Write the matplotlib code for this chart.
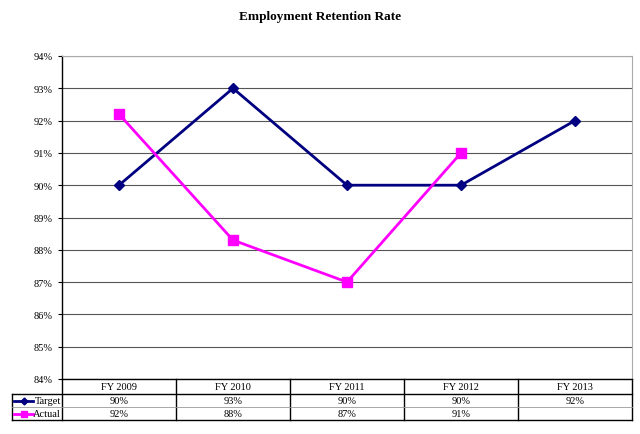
import numpy as np
import matplotlib.pyplot as plt
from matplotlib.lines import Line2D

categories = ["FY 2009", "FY 2010", "FY 2011", "FY 2012", "FY 2013"]
target = [90, 93, 90, 90, 92]
actual = [92.2, 88.3, 87.0, 91.0, None]
target_labels = ["90%", "93%", "90%", "90%", "92%"]
actual_labels = ["92%", "88%", "87%", "91%", ""]

plt.rcParams["font.family"] = ["Liberation Serif", "DejaVu Serif"]

W, H = 640, 435
fig = plt.figure(figsize=(W / 100, H / 100), dpi=100)
left, right, top, bottom = 62, 632, 57, 380
ax = fig.add_axes([left / W, 1 - bottom / H, (right - left) / W, (bottom - top) / H])

x = np.arange(len(categories))
ax.set_xlim(-0.5, len(categories) - 0.5)
ax.set_ylim(84, 94)
ax.set_yticks(np.arange(84, 95, 1))
ax.set_yticklabels([f"{v}%" for v in range(84, 95)], fontsize=7.5)
ax.set_xticks([])
ax.tick_params(axis="y", direction="out", length=3, width=0.8, pad=4)
ax.yaxis.grid(True, color="#555555", linewidth=0.8)
ax.set_axisbelow(True)
for s in ["top", "right"]:
    ax.spines[s].set_color("#aaaaaa")
    ax.spines[s].set_linewidth(0.8)
ax.spines["left"].set_linewidth(1.0)
ax.spines["bottom"].set_linewidth(1.0)

navy = "#000080"
magenta = "#ff00ff"
ax.plot(x, target, color=navy, linewidth=2, marker="D", markersize=5, zorder=3)
xa = [i for i, v in enumerate(actual) if v is not None]
ya = [v for v in actual if v is not None]
ax.plot(xa, ya, color=magenta, linewidth=2, marker="s", markersize=6.5, zorder=3)

fig.text(0.5, 1 - 17 / H, "Employment Retention Rate", ha="center", va="center",
         fontsize=9.5, fontweight="bold")

# data table under the axes
trans = ax.get_xaxis_transform()
ph = bottom - top
rows_px = [380, 395, 408, 421]
ry = [-(r - bottom) / ph for r in rows_px]
n = len(categories)
lw = 1.0
for i in range(n + 1):
    ax.plot([i - 0.5, i - 0.5], [ry[0], ry[3]], color="black", lw=lw, transform=trans, clip_on=False)
label_x = -0.5 - (left - 12) / (right - left) * n
ax.plot([label_x, label_x], [ry[1], ry[3]], color="black", lw=lw, transform=trans, clip_on=False)
ax.plot([label_x, n - 0.5], [ry[1], ry[1]], color="black", lw=lw, transform=trans, clip_on=False)
ax.plot([label_x, n - 0.5], [ry[2], ry[2]], color="#999999", lw=0.6, transform=trans, clip_on=False)
ax.plot([label_x, n - 0.5], [ry[3], ry[3]], color="black", lw=lw, transform=trans, clip_on=False)

for i, c in enumerate(categories):
    ax.text(i, (ry[0] + ry[1]) / 2, c, ha="center", va="center", fontsize=7.5, transform=trans)
    ax.text(i, (ry[1] + ry[2]) / 2, target_labels[i], ha="center", va="center", fontsize=7.5, transform=trans)
    ax.text(i, (ry[2] + ry[3]) / 2, actual_labels[i], ha="center", va="center", fontsize=7.5, transform=trans)

px = (right - left) / n  # pixels per category unit
def px2x(p):
    return -0.5 + (p - left) / px

for name, color, mk, ms, r in [("Target", navy, "D", 3.5, 1), ("Actual", magenta, "s", 5, 2)]:
    yc = (ry[r] + ry[r + 1]) / 2
    ax.add_line(Line2D([px2x(14), px2x(33)], [yc, yc], color=color, lw=2, transform=trans, clip_on=False))
    ax.add_line(Line2D([px2x(23.5)], [yc], color=color, marker=mk, markersize=ms, transform=trans, clip_on=False))
    ax.text(px2x(61), yc, name, ha="right", va="center", fontsize=7.5, transform=trans)

fig.savefig("out.png", dpi=100)
